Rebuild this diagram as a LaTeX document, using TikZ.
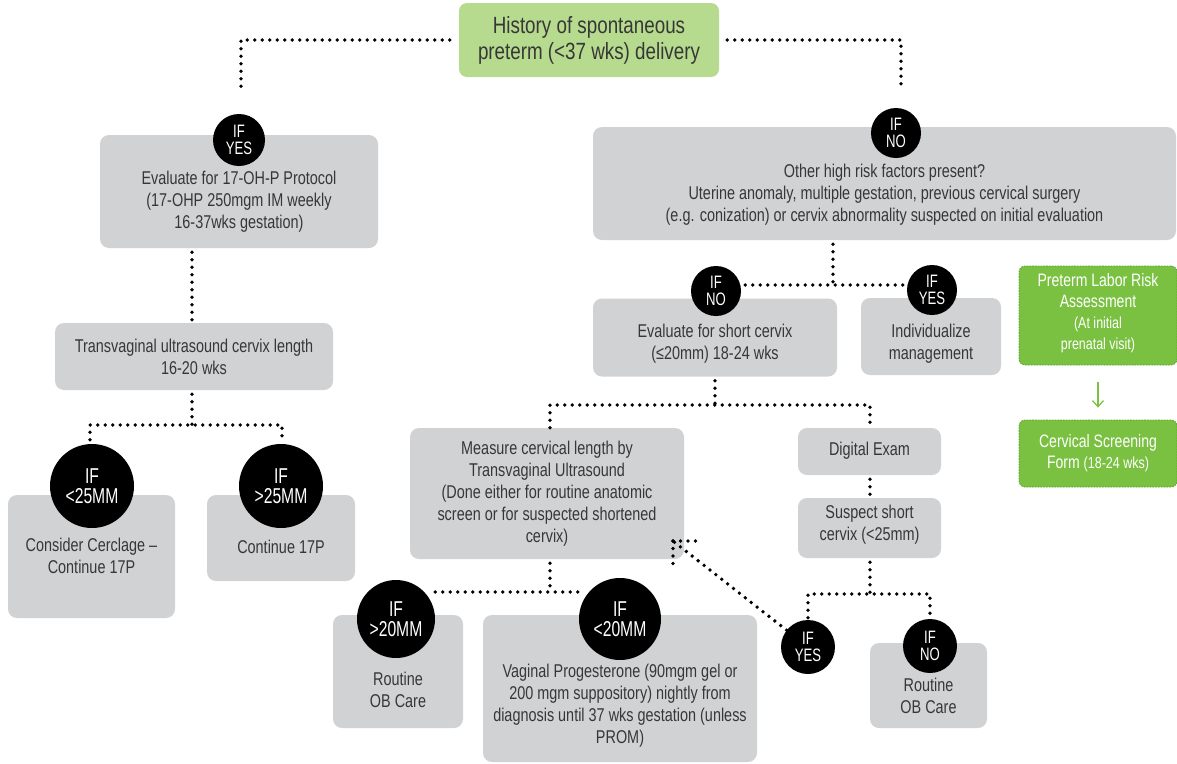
\documentclass[tikz,border=0pt]{standalone}
\usepackage{fontspec}
\setmainfont{Liberation Sans}[FakeStretch=0.78]
\newfontfamily\circfont{Liberation Sans}[FakeStretch=0.73]
\newfontfamily\titlefont{Liberation Sans}[FakeStretch=0.8]
\usetikzlibrary{calc,arrows.meta}
\definecolor{boxgray}{RGB}{209,210,212}
\definecolor{txtgray}{RGB}{55,55,55}
\definecolor{lightgreen}{RGB}{183,219,142}
\definecolor{vgreen}{RGB}{122,193,66}
\definecolor{vgreendark}{RGB}{92,160,42}
\newcommand\fsz[2]{\fontsize{#1}{#2}\selectfont}
\begin{document}
\begin{tikzpicture}[x=1pt,y=-1pt,
  gbox/.style={fill=boxgray, rounded corners=9pt, inner sep=0pt},
  gtext/.style={text=txtgray, align=center, font=\fsz{18.5}{22}, inner sep=0pt},
  circ/.style={circle, fill=black, text=white, inner sep=0pt, align=center},
  csmall/.style={circ, font=\circfont\fsz{18}{17}},
  cbig/.style={circ, font=\circfont\fsz{21.5}{19.5}},
  dots/.style={line width=3.8pt, dash pattern=on 0pt off 7.5pt, line cap=round},
  gnbox/.style={fill=vgreen, draw=vgreendark, dash pattern=on 1.6pt off 1.2pt, line width=0.8pt, rounded corners=6pt, inner sep=0pt},
  gntext/.style={text=white, align=center, font=\fsz{18}{21}, inner sep=0pt}]
\useasboundingbox (0,0) rectangle (1177,763);

% title
\node[fill=lightgreen, rounded corners=8pt, minimum width=260pt, minimum height=74pt, inner sep=0pt,
      text=txtgray, align=center, font=\titlefont\fsz{23.5}{26}] (top) at (589,40) {History of spontaneous\\preterm (<37 wks) delivery};

% left branch
\node[gbox, minimum width=278pt, minimum height=113pt] (A) at (239,191.5) {};
\node[gtext] (At) at (239,202) {Evaluate for 17-OH-P Protocol\\(17-OHP 250mgm IM weekly\\16-37wks gestation)};
\node[csmall, minimum size=52pt] (c1) at (239,140) {IF\\YES};

\node[gbox, minimum width=278pt, minimum height=67pt] (B) at (194,356.5) {};
\node[gtext] (Bt) at (194,357) {Transvaginal ultrasound cervix length\\16-20 wks};

\node[gbox, minimum width=167pt, minimum height=123pt] (C) at (91.5,556.5) {};
\node[gtext] (Ct) at (91.5,556) {Consider Cerclage --\\Continue 17P};
\node[gbox, minimum width=148pt, minimum height=86pt] (D) at (281,538) {};
\node[gtext] (Dt) at (281,547) {Continue 17P};
\node[cbig, minimum size=84pt] (c2) at (92,486) {IF\\<25MM};
\node[cbig, minimum size=84pt] (c3) at (281,486) {IF\\>25MM};

% right branch
\node[gbox, minimum width=583pt, minimum height=113pt] (E) at (884.5,183.5) {};
\node[gtext] (Et) at (884.5,194.5) {Other high risk factors present?\\Uterine anomaly, multiple gestation, previous cervical surgery\\(e.g. conization) or cervix abnormality suspected on initial evaluation};
\node[csmall, minimum size=50pt] (c4) at (896,133) {IF\\NO};

\node[gbox, minimum width=244pt, minimum height=78pt] (F) at (715,337.5) {};
\node[gtext] (Ft) at (715,344) {Evaluate for short cervix\\(≤20mm) 18-24 wks};
\node[gbox, minimum width=140pt, minimum height=77pt] (G) at (931,336.5) {};
\node[gtext] (Gt) at (931,344) {Individualize\\management};
\node[csmall, minimum size=50pt] (c5) at (716,291) {IF\\NO};
\node[csmall, minimum size=50pt] (c6) at (932,290) {IF\\YES};

\node[gbox, minimum width=274pt, minimum height=131pt] (H) at (547,493.5) {};
\node[gtext] (Ht) at (547,494) {Measure cervical length by\\Transvaginal Ultrasound\\(Done either for routine anatomic\\screen or for suspected shortened\\cervix)};
\node[gbox, minimum width=143pt, minimum height=47pt] (I) at (869.5,451.5) {};
\node[gtext] (It) at (869.5,451) {Digital Exam};
\node[gbox, minimum width=143pt, minimum height=60pt] (J) at (869.5,528) {};
\node[gtext] (Jt) at (869.5,524.5) {Suspect short\\cervix (<25mm)};

\node[gbox, minimum width=117pt, minimum height=85pt] (K) at (928.5,685.5) {};
\node[gtext] (Kt) at (928.5,696) {Routine\\OB Care};
\node[csmall, minimum size=54pt] (c7) at (808,647) {IF\\YES};
\node[csmall, minimum size=54pt] (c8) at (930,646) {IF\\NO};

\node[gbox, minimum width=130pt, minimum height=113pt] (L) at (398,671.5) {};
\node[gtext] (Lt) at (398,690) {Routine\\OB Care};
\node[gbox, minimum width=274pt, minimum height=147pt] (M) at (620,688.5) {};
\node[gtext] (Mt) at (620,705.5) {Vaginal Progesterone (90mgm gel or\\200 mgm suppository) nightly from\\diagnosis until 37 wks gestation (unless\\PROM)};
\node[cbig, minimum size=78pt] (c9) at (396,619) {IF\\>20MM};
\node[cbig, minimum size=82pt] (c10) at (620,619) {IF\\<20MM};

% green side boxes
\node[gnbox, minimum width=158pt, minimum height=99pt] (N) at (1098,315.5) {};
\node[gntext] (Nt) at (1098,313.5) {Preterm Labor Risk\\Assessment\\{\fsz{16}{21}(At initial}\\{\fsz{16}{21}prenatal visit)}};
\node[gnbox, minimum width=158pt, minimum height=67pt] (O) at (1098,453.5) {};
\node[gntext] (Ot) at (1098,453) {Cervical Screening\\Form {\fsz{16}{20}(18-24 wks)}};
\draw[vgreen, line width=1.3pt, -{Straight Barb[length=6pt,width=11pt]}, shorten <=17pt, shorten >=12pt] (N.south) -- (O.north);

% connectors
\coordinate (lA) at (241,87);
\coordinate (rA) at (901,87);
\draw[dots] ($(top.west)+(-9,0)$) -| (lA);
\draw[dots] ($(top.east)+(8,0)$) -| (rA);

\coordinate (j0) at (192,322);
\draw[dots] (A.south -| j0) ++(0,4) -- (j0);
\coordinate (j1) at (192,425);
\draw[dots] (B.south -| j1) ++(0,4) -- (j1);
\coordinate (j1l) at (90,425);
\coordinate (j1r) at (282,425);
\draw[dots] (c2.north -| j1l) ++(0,-4) -- (j1l) -- (j1r) -- ($(c3.north -| j1r)+(0,-4)$);

\coordinate (j2) at (833,285);
\draw[dots] (E.south -| j2) ++(0,4) -- (j2);
\draw[dots] (c5.east |- j2) ++(4,0) -- ($(c6.west |- j2)+(-2,0)$);

\coordinate (j3) at (715,405);
\coordinate (k1) at (550,405);
\coordinate (k2) at (870,405);
\draw[dots] (F.south -| j3) ++(0,4) -- (j3);
\draw[dots] (H.north -| k1) -- (k1) -- (k2) -- (I.north -| k2);
\draw[dots] (I.south -| k2) ++(0,4) -- (J.north -| k2);

\coordinate (k3) at (870,594);
\draw[dots] (J.south -| k3) ++(0,4) -- (k3);
\draw[dots] ($(c7.north)+(0,-2)$) -- (c7.north |- k3) -- (c8.north |- k3) -- ($(c8.north)+(0,-2)$);

\coordinate (k6) at (550,592);
\draw[dots] (H.south -| k6) ++(0,4) -- (k6);
\draw[dots] (c9.east |- k6) -- (c10.west |- k6);

\coordinate (tip) at (673,541);
\draw[dots] (c7) -- (tip);
\draw[dots] (tip) -- ++(28,0);
\draw[dots] (tip) -- ++(0,27);
\end{tikzpicture}
\end{document}
